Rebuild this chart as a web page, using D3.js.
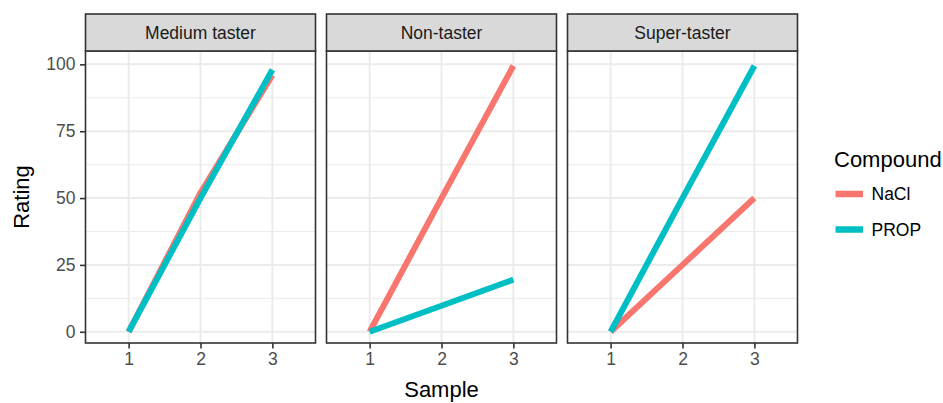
<!DOCTYPE html>
<html>
<head>
<meta charset="utf-8">
<script src="https://cdn.jsdelivr.net/npm/d3@7"></script>
<style>
  html, body { margin: 0; padding: 0; background: #fff; }
  svg { display: block; font-family: "Liberation Sans", Arial, sans-serif; }
</style>
</head>
<body>
<svg id="chart" width="943" height="403"></svg>
<script>
// Taster groups (facets), sample index and compounds
const groups = ["Medium taster", "Non-taster", "Super-taster"];
const samples = [1, 2, 3];
const compounds = ["NaCl", "PROP"];

// Ratings per group, one value per sample
const naclMedium = [0, 52, 96];
const propMedium = [0, 50, 98];
const naclNon = [0, 50, 99.5];
const propNon = [0, 9.75, 19.5];
const naclSuper = [0, 25, 50];
const propSuper = [0, 50, 99.5];

const yTicks = [0, 25, 50, 75, 100];
const yMinor = [12.5, 37.5, 62.5, 87.5];

const ratings = {
  "Medium taster": { NaCl: naclMedium, PROP: propMedium },
  "Non-taster": { NaCl: naclNon, PROP: propNon },
  "Super-taster": { NaCl: naclSuper, PROP: propSuper }
};

const colour = d3.scaleOrdinal().domain(compounds).range(["#F8766D", "#00BFC4"]);

const svg = d3.select("#chart");

// Facet geometry
const panelW = 230, panelGap = 11, panelLeft = 85.5;
const stripTop = 14, stripBottom = 51, panelBottom = 343;

const facet = d3.scaleBand()
  .domain(groups)
  .range([panelLeft, panelLeft + groups.length * panelW + (groups.length - 1) * panelGap])
  .paddingInner(panelGap / (panelW + panelGap));

const x = d3.scalePoint()
  .domain(samples)
  .range([0, panelW])
  .padding(0.6);

const y = d3.scaleLinear()
  .domain([-4.2, 105])
  .range([panelBottom, stripBottom]);

const line = d3.line()
  .x((d, i) => x(samples[i]))
  .y(d => y(d));

groups.forEach((g, gi) => {
  const panel = svg.append("g").attr("transform", `translate(${facet(g)},0)`);

  // Grid
  panel.append("g").selectAll("line.minor").data(yMinor).join("line")
    .attr("x1", 0).attr("x2", panelW)
    .attr("y1", d => y(d)).attr("y2", d => y(d))
    .attr("stroke", "#EBEBEB").attr("stroke-width", 1);
  panel.append("g").selectAll("line.major").data(yTicks).join("line")
    .attr("x1", 0).attr("x2", panelW)
    .attr("y1", d => y(d)).attr("y2", d => y(d))
    .attr("stroke", "#EBEBEB").attr("stroke-width", 2);
  panel.append("g").selectAll("line.vx").data(samples).join("line")
    .attr("x1", d => x(d)).attr("x2", d => x(d))
    .attr("y1", stripBottom).attr("y2", panelBottom)
    .attr("stroke", "#EBEBEB").attr("stroke-width", 2);

  // Series lines
  compounds.forEach(c => {
    panel.append("path")
      .datum(ratings[g][c])
      .attr("d", line)
      .attr("fill", "none")
      .attr("stroke", colour(c))
      .attr("stroke-width", 6)
      .attr("stroke-linecap", "butt")
      .attr("stroke-linejoin", "round");
  });

  // Panel border
  panel.append("rect")
    .attr("x", 0).attr("y", stripBottom)
    .attr("width", panelW).attr("height", panelBottom - stripBottom)
    .attr("fill", "none").attr("stroke", "#333333").attr("stroke-width", 1.6);

  // Strip
  panel.append("rect")
    .attr("x", 0).attr("y", stripTop)
    .attr("width", panelW).attr("height", stripBottom - stripTop)
    .attr("fill", "#D9D9D9").attr("stroke", "#333333").attr("stroke-width", 1.6);
  panel.append("text")
    .attr("x", panelW / 2).attr("y", (stripTop + stripBottom) / 2)
    .attr("dy", "0.35em")
    .attr("text-anchor", "middle")
    .attr("font-size", "17.5px")
    .attr("fill", "#1A1A1A")
    .text(g);

  // Bottom axis
  const xAxis = panel.append("g")
    .attr("transform", `translate(0,${panelBottom})`)
    .call(d3.axisBottom(x).tickSize(5.5).tickPadding(4));
  xAxis.select(".domain").remove();
  xAxis.selectAll(".tick line").attr("stroke", "#333333").attr("stroke-width", 1.6);
  xAxis.selectAll(".tick text")
    .attr("font-size", "17.5px").attr("fill", "#4D4D4D")
    .attr("font-family", "Liberation Sans, Arial, sans-serif");

  // Left axis on first facet only
  if (gi === 0) {
    const yAxis = panel.append("g")
      .call(d3.axisLeft(y).tickValues(yTicks).tickSize(5.5).tickPadding(4.5));
    yAxis.select(".domain").remove();
    yAxis.selectAll(".tick line").attr("stroke", "#333333").attr("stroke-width", 1.6);
    yAxis.selectAll(".tick text")
      .attr("font-size", "17.5px").attr("fill", "#4D4D4D")
      .attr("font-family", "Liberation Sans, Arial, sans-serif");
  }
});

// Axis titles
const plotLeft = facet(groups[0]);
const plotRight = facet(groups[groups.length - 1]) + panelW;
svg.append("text")
  .attr("x", (plotLeft + plotRight) / 2).attr("y", 397)
  .attr("text-anchor", "middle")
  .attr("font-size", "22px").attr("fill", "#000")
  .text("Sample");
svg.append("text")
  .attr("transform", `translate(29,${(stripBottom + panelBottom) / 2}) rotate(-90)`)
  .attr("text-anchor", "middle")
  .attr("font-size", "22px").attr("fill", "#000")
  .text("Rating");

// Legend
const legend = svg.append("g").attr("transform", "translate(834,0)");
legend.append("text")
  .attr("x", 0).attr("y", 167)
  .attr("font-size", "22px").attr("fill", "#000")
  .text("Compound");
compounds.forEach((c, i) => {
  const cy = 194 + i * 35.5;
  legend.append("line")
    .attr("x1", 1.5).attr("x2", 29)
    .attr("y1", cy).attr("y2", cy)
    .attr("stroke", colour(c)).attr("stroke-width", 6.5);
  legend.append("text")
    .attr("x", 37.5).attr("y", cy).attr("dy", "0.35em")
    .attr("font-size", "17.5px").attr("fill", "#000")
    .text(c);
});
</script>
</body>
</html>
